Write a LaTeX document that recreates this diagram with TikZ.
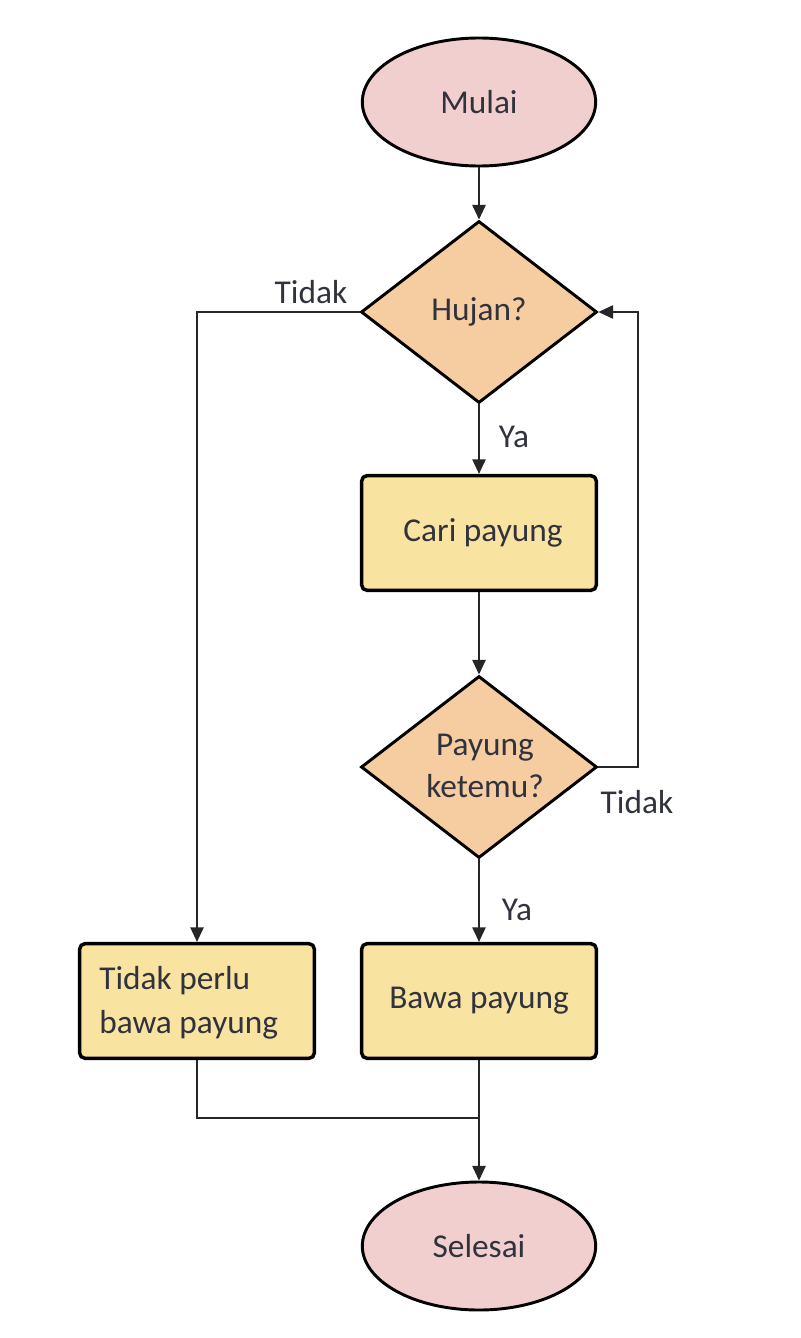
\documentclass[tikz,border=0pt]{standalone}
\usepackage{fontspec}
\setmainfont{Carlito}
\usetikzlibrary{shapes.geometric,arrows.meta}
\definecolor{txt}{RGB}{48,50,62}
\definecolor{pinkfill}{RGB}{242,207,207}
\definecolor{peach}{RGB}{246,205,160}
\definecolor{boxfill}{RGB}{249,227,160}
\tikzset{
  base/.style={font=\fontsize{25}{32}\selectfont, text=txt},
  term/.style={base, ellipse, draw=black, line width=2.2pt, fill=pinkfill, minimum width=175pt, minimum height=96pt, inner sep=0pt},
  dec/.style={diamond, draw=black, line width=2.2pt, fill=peach, minimum width=177pt, minimum height=136.5pt, inner sep=0pt},
  proc/.style={base, rectangle, rounded corners=4pt, draw=black, line width=2.6pt, fill=boxfill, minimum width=176pt, minimum height=86pt},
  conn/.style={line width=1.3pt, draw=black!85},
  arr/.style={conn, -{Triangle[length=11pt,width=10pt]}},
  lbl/.style={base, inner sep=0pt}
}
\begin{document}
\begin{tikzpicture}[x=0.75pt,y=-0.75pt]
\useasboundingbox (0,0) rectangle (800,1338);
\node[term] (m) at (479,102) {Mulai};
\node[dec] (d1) at (479,312) {};
\node[lbl] at (d1) {Hujan?};
\node[proc] (b1) at (479,533) {\hspace{6pt}Cari payung};
\node[dec] (d2) at (479,767) {};
\node[lbl, align=center] at (485,766) {Payung\\[0pt]ketemu?};
\node[proc] (b2) at (479,1001) {\raisebox{2pt}{Bawa payung}};
\node[proc] (b3) at (197,1001) {};
\node[lbl, align=left, anchor=west] at (99,1003) {Tidak perlu\\[1pt]bawa payung};
\node[term] (s) at (479,1246) {Selesai};
\coordinate (r) at (638,312);
\coordinate (j) at (479,1118);
\draw[arr] (m) -- (d1);
\draw[arr] (d1.west) -| (b3.north);
\draw[arr] (d1.south) -- (b1.north);
\draw[arr] (b1.south) -- (d2.north);
\draw[arr] (d2.east) -| (r) -- (d1.east);
\draw[arr] (d2.south) -- (b2.north);
\draw[conn] (b3.south) |- (j);
\draw[arr] (b2.south) -- (s.north);
\node[lbl] at (311,292) {Tidak};
\node[lbl] at (514,437) {Ya};
\node[lbl] at (637,802) {Tidak};
\node[lbl] at (517,910) {Ya};
\end{tikzpicture}
\end{document}
